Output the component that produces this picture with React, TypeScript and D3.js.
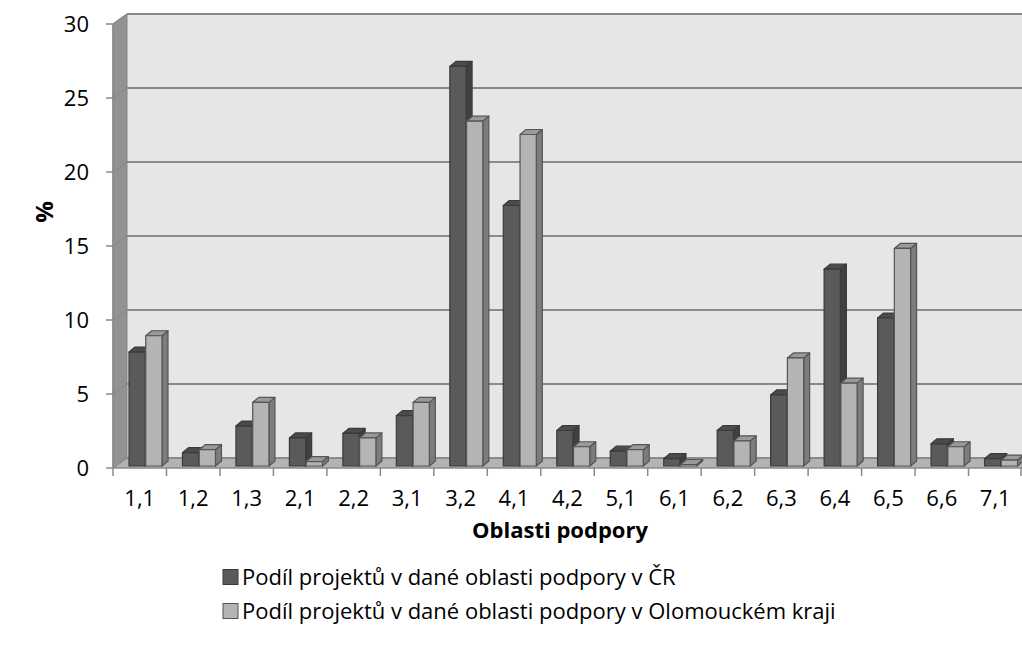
import React from 'react';
import * as d3 from 'd3';

const categories = ['1,1', '1,2', '1,3', '2,1', '2,2', '3,1', '3,2', '4,1', '4,2', '5,1', '6,1', '6,2', '6,3', '6,4', '6,5', '6,6', '7,1'];
const crValues = [7.7, 0.9, 2.7, 1.9, 2.2, 3.4, 27.0, 17.6, 2.4, 1.0, 0.5, 2.4, 4.8, 13.3, 10.0, 1.5, 0.5];
const olomoucValues = [8.8, 1.1, 4.3, 0.3, 1.9, 4.3, 23.3, 22.4, 1.3, 1.1, 0.1, 1.7, 7.3, 5.6, 14.7, 1.3, 0.4];
const seriesNames = [
  'Podíl projektů v dané oblasti podpory v ČR',
  'Podíl projektů v dané oblasti podpory v Olomouckém kraji',
];
const yTicks = [0, 5, 10, 15, 20, 25, 30];

const W = 1022;
const H = 662;
const FONT = "'Open Sans', 'Noto Sans', sans-serif";

// 3D offsets
const depthX = 14, depthY = -10;   // wall depth
const barDX = 6, barDY = -5;       // bar depth

const seriesStyle = [
  { front: '#5a5a5a', side: '#404040', top: '#4b4b4b', stroke: '#3a3a3a' },
  { front: '#b4b4b4', side: '#7c7c7c', top: '#9a9a9a', stroke: '#555555' },
];

const pts = (p: [number, number][]) => p.map(d => d.join(',')).join(' ');

const App: React.FC = () => {
  const x0 = 113, x1 = 1022;
  const yFront = d3.scaleLinear().domain([0, 30]).range([468, 24]);
  const yBack = d3.scaleLinear().domain([0, 30]).range([468 + depthY, 24 + depthY]);
  const yBar = d3.scaleLinear().domain([0, 30]).range([466, 22]);

  const x = d3.scaleBand<string>().domain(categories).range([x0, x1]).padding(0);
  const xs = d3.scaleBand<number>().domain([0, 1]).range([16, 49]).paddingInner(0.03);

  const data = [crValues, olomoucValues];

  return (
    <svg width={W} height={H} style={{ position: 'absolute', left: 0, top: 0, background: '#fff' }} fontFamily={FONT}>
      {/* back wall */}
      <rect x={x0 + depthX} y={yBack(30)} width={x1 - x0} height={yBack(0) - yBack(30)} fill="#e6e6e6" />
      {/* side wall */}
      <polygon
        points={pts([[x0, yFront(30)], [x0 + depthX, yBack(30)], [x0 + depthX, yBack(0)], [x0, yFront(0)]])}
        fill="#929292" stroke="#858585" strokeWidth={1}
      />
      {/* floor */}
      <polygon
        points={pts([[x0, yFront(0)], [x0 + depthX, yBack(0)], [x1 + depthX, yBack(0)], [x1, yFront(0)]])}
        fill="#b3b3b3"
      />
      {/* grid lines */}
      {yTicks.map(t => (
        <g key={t}>
          <line x1={x0 + depthX} x2={x1 + depthX} y1={yBack(t)} y2={yBack(t)} stroke="#8a8a8a" strokeWidth={2} />
          <line x1={x0} x2={x0 + depthX} y1={yFront(t)} y2={yBack(t)} stroke="#8a8a8a" strokeWidth={1.5} />
        </g>
      ))}

      {/* bars */}
      {categories.map((c, i) => (
        <g key={c}>
          {data.map((vals, s) => {
            const bx0 = x(c)! + xs(s)!;
            const bx1 = bx0 + xs.bandwidth();
            const yt = yBar(vals[i]);
            const yb = yBar(0);
            const st = seriesStyle[s];
            return (
              <g key={s} stroke={st.stroke} strokeWidth={1.2} strokeLinejoin="round">
                <polygon
                  points={pts([[bx1, yt], [bx1 + barDX, yt + barDY], [bx1 + barDX, yb + barDY], [bx1, yb]])}
                  fill={st.side}
                />
                <polygon
                  points={pts([[bx0, yt], [bx0 + barDX, yt + barDY], [bx1 + barDX, yt + barDY], [bx1, yt]])}
                  fill={st.top}
                />
                <rect x={bx0} y={yt} width={bx1 - bx0} height={yb - yt} fill={st.front} />
              </g>
            );
          })}
        </g>
      ))}

      {/* y axis */}
      <line x1={x0} x2={x0} y1={yFront(30)} y2={yFront(0)} stroke="#8a8a8a" strokeWidth={1.5} />
      {yTicks.map(t => (
        <g key={t}>
          <line x1={x0 - 7} x2={x0} y1={yFront(t)} y2={yFront(t)} stroke="#8a8a8a" strokeWidth={1.5} />
          <text x={89} y={yFront(t)} dy="0.35em" textAnchor="end" fontSize={22} fill="#000">{t}</text>
        </g>
      ))}

      {/* x axis */}
      <line x1={x0} x2={x1} y1={yFront(0)} y2={yFront(0)} stroke="#8a8a8a" strokeWidth={1.5} />
      {[...categories.map(c => x(c)!), x1 - 1].map((px, i) => (
        <line key={i} x1={px} x2={px} y1={yFront(0)} y2={yFront(0) + 8} stroke="#8a8a8a" strokeWidth={1.5} />
      ))}
      {categories.map(c => (
        <text key={c} x={x(c)! + x.bandwidth() / 2} y={498} dy="0.35em" textAnchor="middle" fontSize={22} fill="#000">{c}</text>
      ))}

      {/* axis titles */}
      <text x={560} y={530} dy="0.35em" textAnchor="middle" fontSize={22} fontWeight="bold">Oblasti podpory</text>
      <text transform="translate(45,212) rotate(-90)" dy="0.35em" textAnchor="middle" fontSize={24} fontWeight="bold">%</text>

      {/* legend */}
      {seriesNames.map((n, i) => (
        <g key={n} transform={`translate(223,${577 + i * 34})`}>
          <rect x={0} y={-7.5} width={15} height={15} fill={seriesStyle[i].front} stroke={seriesStyle[i].stroke} strokeWidth={1} />
          <text x={19} y={0} dy="0.35em" fontSize={22} fill="#000">{n}</text>
        </g>
      ))}
    </svg>
  );
};

export default App;
